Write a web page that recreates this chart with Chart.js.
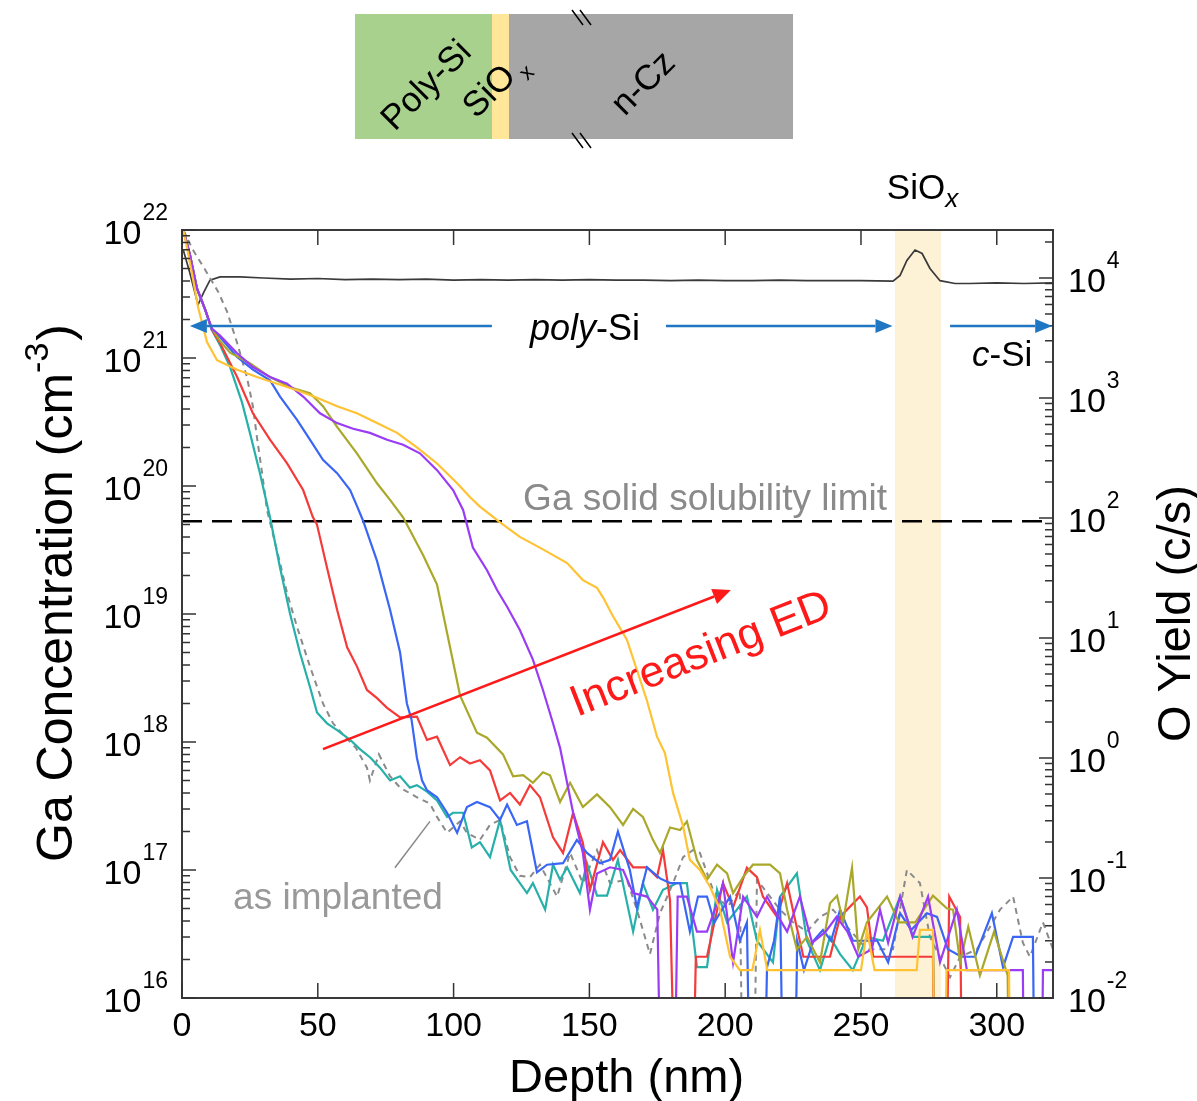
<!DOCTYPE html>
<html><head><meta charset="utf-8">
<script src="https://cdn.jsdelivr.net/npm/chart.js@4.4.1/dist/chart.umd.min.js"></script>
<style>html,body{margin:0;padding:0;background:#fff;}#wrap{width:1197px;height:1101px;position:relative;}</style>
</head><body><div id="wrap"><canvas id="c" width="1197" height="1101"></canvas></div>
<script>
const ND = 1e12; // below detection limit: plotted to the bottom of the log axis
const depthTicks = [0, 50, 100, 150, 200, 250, 300];
const gaExponents = [16, 17, 18, 19, 20, 21, 22];
const oExponents = [-2, -1, 0, 1, 2, 3, 4];
const solubilityLimit = 5.3e19;
const siOxBand = [262.5, 279.5];

// [depth (nm), Ga concentration (cm^-3)]
const asImplanted = [[0.5,1e22],[4.0,7.0e21],[8.5,4.9e21],[13.3,3.3e21],[16.6,2.3e21],[20.3,1.31e21],[23.9,7.1e20],[26.1,4.2e20],[27.6,2.4e20],[29.5,1.26e20],[31.3,6.5e19],[36.1,2.5e19],[38.7,1.45e19],[42.3,8.0e18],[47.1,3.9e18],[51.9,2.0e18],[55.6,1.4e18],[60.0,1.1e18],[64.0,9.0e17],[68.1,6.3e17],[69.2,5.0e17],[72.5,8.0e17],[76.6,5.4e17],[80.3,4.4e17],[86.5,3.7e17],[91.3,3.3e17],[93.9,2.6e17],[97.6,1.95e17],[102.4,2.4e17],[104.9,1.95e17],[109.7,1.72e17],[113.4,2.25e17],[117.1,2.46e17],[120.8,1.26e17],[124.4,9.0e16],[128.1,8.8e16],[131.8,1.1e17],[138.1,6.2e16],[142.9,1.36e17],[147.6,7.9e16],[152.8,1.43e17],[157.6,7.9e16],[163.8,8.4e16],[167.5,4.9e16],[172.3,2.2e16],[176.0,4.6e16],[180.8,7.9e16],[184.5,1.26e17],[188.1,1.43e17],[190.7,1.36e17],[195.5,7.0e16],[200.7,5.1e16],[205.4,7.0e16],[208.5,ND],[211.7,8.4e16],[220.2,4.9e16],[225.0,3.9e16],[230.1,3.3e16],[234.9,4.3e16],[239.7,4.9e16],[244.9,3.6e16],[252.2,2.4e16],[261.8,2.4e16],[266.9,1.0e17],[271.7,7.9e16],[275.4,3.0e16],[282.8,1.45e16],[286.5,2.1e16],[292.7,2.4e16],[301.2,4.9e16],[306.0,6.2e16],[309.6,2.7e16],[312.2,2.1e16],[317.0,3.9e16],[320.7,2.4e16]];

const teal = [[0.5,1e22],[2.9,6.4e21],[5.5,3.5e21],[8.5,2.4e21],[11.0,1.66e21],[14.0,1.26e21],[17.7,8.5e20],[22.1,4.5e20],[25.0,2.6e20],[28.7,1.26e20],[32.4,5.7e19],[36.1,2.3e19],[39.8,1.0e19],[43.4,5.0e18],[47.1,2.7e18],[49.7,1.7e18],[53.4,1.4e18],[57.1,1.24e18],[61.9,1.04e18],[65.5,8.8e17],[69.2,7.6e17],[72.9,6.3e17],[76.6,5.0e17],[80.3,5.4e17],[83.9,4.4e17],[86.5,4.6e17],[90.2,4.1e17],[93.9,3.5e17],[97.6,2.6e17],[99.8,2.8e17],[103.5,2.8e17],[106.7,1.5e17],[109.7,1.65e17],[113.4,1.26e17],[117.1,2.46e17],[121.0,1.0e17],[127.0,6.6e16],[129.2,7.9e16],[133.7,4.9e16],[136.6,1.1e17],[139.2,8.4e16],[141.8,1.05e17],[146.5,6.6e16],[149.1,1.13e17],[152.8,6.3e16],[156.5,6.3e16],[160.5,1.2e17],[166.1,3.3e16],[169.7,7.9e16],[173.4,4.9e16],[177.1,7.0e16],[182.3,7.9e16],[185.9,7.9e16],[189.6,1.74e16],[193.3,1.74e16],[197.0,7.0e16],[200.7,3.9e16],[208.0,6.2e16],[211.7,2.8e16],[217.6,1.9e16],[220.2,6.2e16],[226.4,9.4e16],[230.1,2.8e16],[234.9,1.65e16],[238.6,3.0e16],[242.3,2.2e16],[247.0,1.65e16],[252.2,3.0e16],[258.1,2.8e16],[264.4,6.2e16],[269.2,3.0e16],[276.5,3.0e16],[279.5,ND]];

const red = [[0.5,1e22],[2.9,6.4e21],[5.5,3.5e21],[8.5,2.4e21],[11.0,1.66e21],[14.0,1.31e21],[20.3,7.1e20],[26.1,3.7e20],[32.4,2.3e20],[38.7,1.5e20],[44.6,9.3e19],[48.2,5.7e19],[49.7,5.0e19],[53.4,2.3e19],[57.1,1.08e19],[60.8,5.5e18],[64.4,3.9e18],[68.1,2.55e18],[71.8,2.2e18],[75.5,1.85e18],[80.3,1.56e18],[86.5,1.58e18],[90.2,1.04e18],[93.9,1.1e18],[98.7,6.6e17],[102.4,7.6e17],[106.0,6.8e17],[109.7,7.2e17],[113.4,6.0e17],[117.1,3.5e17],[120.8,4.0e17],[124.4,3.25e17],[128.1,4.6e17],[131.8,3.7e17],[136.6,1.8e17],[140.3,1.36e17],[144.0,2.8e17],[147.6,1.63e17],[150.2,7.0e16],[155.0,1.65e17],[158.7,1.2e17],[161.3,1.43e17],[166.1,1.05e17],[171.2,1.05e17],[174.9,8.8e16],[177.1,1.43e17],[179.7,5.8e16],[185.0,ND],[189.2,2.1e16],[193.3,2.1e16],[199.2,7.9e16],[202.9,5.1e16],[208.0,1.04e17],[211.7,8.8e16],[213.9,6.2e16],[219.1,4.3e16],[222.8,7.9e16],[225.5,4.3e16],[228.8,2.1e16],[238.6,2.1e16],[242.3,4.3e16],[249.6,6.2e16],[252.2,5.1e16],[254.5,2.1e16],[276.5,2.1e16],[279.0,ND],[282.5,6.2e16],[286.5,4.3e16],[289.0,ND]];

const blue = [[0.5,1e22],[2.9,6.4e21],[5.5,3.5e21],[8.5,2.4e21],[11.0,1.66e21],[14.0,1.46e21],[20.3,1.02e21],[26.1,8.1e20],[32.4,6.7e20],[36.1,5.0e20],[42.3,3.3e20],[47.1,2.3e20],[51.9,1.6e20],[57.1,1.26e20],[61.9,9.3e19],[64.4,7.0e19],[66.6,5.4e19],[71.8,2.6e19],[76.6,1.08e19],[80.3,5.0e18],[82.8,2.0e18],[84.5,1.5e18],[86.5,7.5e17],[88.4,5.0e17],[90.2,4.2e17],[93.9,3.7e17],[97.6,2.8e17],[101.3,1.95e17],[104.9,3.1e17],[108.6,3.4e17],[113.4,3.1e17],[117.1,2.46e17],[119.7,3.25e17],[123.3,2.25e17],[127.0,2.4e17],[130.7,9.6e16],[134.4,1.1e17],[140.3,1.13e17],[145.4,1.72e17],[149.1,1.36e17],[153.9,1.13e17],[157.6,1.2e17],[160.5,2.0e17],[164.9,1.0e17],[167.5,5.1e16],[171.2,1.05e17],[176.0,8.6e16],[179.7,7.9e16],[183.4,7.9e16],[187.0,3.3e16],[190.0,6.2e16],[193.3,6.2e16],[196.0,3.9e16],[201.8,6.2e16],[205.4,2.8e16],[208.0,3.9e16],[211.5,ND],[215.4,1.74e16],[218.0,2.8e16],[220.2,6.2e16],[223.5,ND],[226.5,2.8e16],[229.0,1.65e16],[232.5,2.8e16],[236.0,3.4e16],[239.0,2.8e16],[242.3,4.9e16],[247.0,2.8e16],[252.0,2.8e16],[256.0,2.8e16],[260.0,1.9e16],[264.4,4.6e16],[268.5,3.4e16],[274.3,4.6e16],[278.0,4.3e16],[282.0,2.4e16],[287.0,2.1e16],[292.0,2.1e16],[298.2,4.6e16],[302.3,1.74e16],[306.0,3.0e16],[313.3,3.0e16],[315.5,ND]];

const olive = [[0.5,1e22],[2.9,6.4e21],[5.5,3.5e21],[8.5,2.4e21],[11.0,1.7e21],[14.0,1.36e21],[17.7,1.1e21],[25.0,9.1e20],[32.4,7.1e20],[39.8,5.9e20],[47.1,5.3e20],[51.9,4.2e20],[57.1,2.9e20],[64.4,1.8e20],[71.8,1.05e20],[76.6,7.8e19],[81.4,5.7e19],[88.7,2.9e19],[93.9,1.7e19],[98.7,5.5e18],[102.4,2.3e18],[108.6,1.18e18],[112.3,1.08e18],[118.2,8.0e17],[121.9,5.4e17],[125.6,5.5e17],[129.2,4.8e17],[132.9,5.8e17],[135.5,5.5e17],[139.2,3.4e17],[142.9,4.8e17],[147.6,3.1e17],[152.8,3.9e17],[157.6,3.1e17],[162.4,2.25e17],[166.1,3.0e17],[169.7,2.6e17],[173.4,1.72e17],[176.0,1.36e17],[179.7,2.15e17],[183.4,2.05e17],[185.9,2.4e17],[189.6,1.2e17],[193.3,8.4e16],[197.0,1.1e17],[200.7,9.4e16],[202.9,6.6e16],[206.6,8.8e16],[210.2,1.1e17],[216.5,1.1e17],[220.2,9.4e16],[222.8,4.9e16],[226.4,2.4e16],[230.1,3.0e16],[234.9,1.9e16],[238.6,5.5e16],[241.2,6.3e16],[243.4,3.9e16],[246.7,1.04e17],[249.0,2.4e16],[252.2,3.9e16],[259.6,6.2e16],[264.0,3.9e16],[270.0,3.9e16],[276.5,6.3e16],[281.7,5.0e16],[283.9,4.9e16],[286.5,1.9e16],[289.5,3.6e16],[293.8,1.5e16],[299.0,3.3e16],[304.0,1.5e16],[306.5,ND]];

const purple = [[0.5,1e22],[2.9,6.4e21],[5.5,3.5e21],[8.5,2.4e21],[11.0,1.7e21],[14.0,1.5e21],[20.3,1.09e21],[26.1,8.5e20],[32.4,7.1e20],[38.7,6.3e20],[44.6,5.0e20],[50.8,3.7e20],[57.1,3.1e20],[63.0,2.8e20],[69.2,2.6e20],[75.5,2.3e20],[81.4,2.1e20],[87.6,1.8e20],[93.9,1.33e20],[99.8,9.3e19],[103.5,6.5e19],[107.1,3.3e19],[112.3,2.2e19],[116.0,1.54e19],[119.7,1.14e19],[124.4,7.5e18],[129.2,4.4e18],[132.9,2.55e18],[136.6,1.4e18],[139.2,9.0e17],[141.8,4.8e17],[144.0,2.8e17],[147.6,1.36e17],[150.2,4.9e16],[152.8,9.4e16],[157.6,1.05e17],[162.4,1.0e17],[166.1,6.6e16],[171.2,6.2e16],[175.0,4.9e16],[179.0,ND],[182.5,6.2e16],[185.9,6.2e16],[189.6,3.3e16],[193.3,3.3e16],[197.4,5.8e16],[199.2,7.9e16],[202.9,1.9e16],[206.6,6.2e16],[211.7,4.3e16],[215.4,6.2e16],[218.0,4.9e16],[222.8,3.3e16],[227.5,6.2e16],[232.0,2.7e16],[237.0,3.3e16],[241.0,4.3e16],[245.0,3.3e16],[249.0,2.1e16],[254.0,2.4e16],[257.0,4.9e16],[260.0,2.7e16],[264.4,6.2e16],[269.0,3.0e16],[274.7,6.2e16],[279.1,1.9e16],[285.3,4.9e16],[289.0,1.65e16],[309.6,1.65e16],[311.5,ND],[315.0,ND],[317.0,1.65e16],[320.7,1.65e16]];

const orange = [[0.5,1e22],[2.0,7.0e21],[4.0,4.2e21],[5.9,2.5e21],[9.2,1.33e21],[12.9,9.6e20],[20.3,8.1e20],[27.6,7.1e20],[35.0,6.3e20],[42.3,5.6e20],[49.7,4.9e20],[57.1,4.2e20],[64.4,3.7e20],[71.8,3.1e20],[79.2,2.6e20],[86.5,2.0e20],[93.9,1.5e20],[101.3,1.05e20],[106.0,8.2e19],[109.7,6.9e19],[117.1,5.2e19],[124.4,4.0e19],[132.9,3.2e19],[141.8,2.5e19],[147.6,1.84e19],[152.8,1.6e19],[155.0,1.35e19],[158.7,9.6e18],[163.8,6.3e18],[167.5,3.65e18],[171.2,2.1e18],[174.9,1.1e18],[177.8,8.2e17],[180.8,4.0e17],[184.5,2.2e17],[187.0,1.2e17],[190.7,1.0e17],[194.4,7.4e16],[198.1,4.9e16],[201.8,2.1e16],[205.4,1.65e16],[210.0,1.65e16],[212.8,3.4e16],[215.5,1.65e16],[250.0,1.65e16],[252.2,3.4e16],[255.0,1.65e16],[270.5,1.65e16],[271.7,3.4e16],[276.5,3.4e16],[278.5,ND],[281.5,1.65e16],[304.5,1.65e16],[306.5,ND]];

// [depth (nm), O yield (c/s)]
const oYield = [[0.5,1.7e4],[2.9,1.1e4],[5.9,6.0e3],[8.0,7.6e3],[10.3,9.6e3],[14.0,1.02e4],[21.4,1.02e4],[30,1.0e4],[40,9.8e3],[50,9.9e3],[60,9.7e3],[70,9.8e3],[80,9.7e3],[90,9.8e3],[100,9.6e3],[110,9.7e3],[120,9.6e3],[130,9.7e3],[140,9.6e3],[150,9.7e3],[160,9.6e3],[170,9.6e3],[180,9.5e3],[190,9.6e3],[200,9.5e3],[210,9.5e3],[220,9.6e3],[230,9.5e3],[240,9.5e3],[250,9.5e3],[261.8,9.4e3],[264.4,1.05e4],[266.9,1.4e4],[269.9,1.71e4],[272.5,1.6e4],[275.4,1.2e4],[279.1,9.5e3],[284.6,9.0e3],[290,9.0e3],[300,9.1e3],[310,9.0e3],[320.7,9.1e3]];

const FF = '"Liberation Sans", Arial, Helvetica, sans-serif';
const pts = a => a.map(([x, y]) => ({x, y}));
function ds(data, color, extra) {
  return Object.assign({data: pts(data), borderColor: color, borderWidth: 2.2, pointRadius: 0, fill: false, tension: 0, yAxisID: 'y'}, extra || {});
}

function arrow(ctx, x1, y1, x2, y2, color, lw, hl, hw) {
  const a = Math.atan2(y2 - y1, x2 - x1);
  const bx = x2 - hl * Math.cos(a), by = y2 - hl * Math.sin(a);
  ctx.save(); ctx.strokeStyle = color; ctx.fillStyle = color; ctx.lineWidth = lw;
  ctx.beginPath(); ctx.moveTo(x1, y1); ctx.lineTo(bx, by); ctx.stroke();
  ctx.beginPath(); ctx.moveTo(x2, y2);
  ctx.lineTo(bx + hw * Math.sin(a), by - hw * Math.cos(a));
  ctx.lineTo(bx - hw * Math.sin(a), by + hw * Math.cos(a));
  ctx.closePath(); ctx.fill(); ctx.restore();
}
function runs(ctx, parts, x, y) {
  let cx = x;
  for (const p of parts) {
    ctx.font = p.f; ctx.fillText(p.t, cx, y + (p.dy || 0));
    cx += ctx.measureText(p.t).width + (p.gap || 0);
  }
  return cx - x;
}
function powLabel(ctx, exp, x, y, align) {
  ctx.font = '34px ' + FF; const wb = ctx.measureText('10').width;
  ctx.font = '23px ' + FF; const ws = ctx.measureText(String(exp)).width;
  const x0 = align === 'right' ? x - wb - ws - 1 : x;
  ctx.textAlign = 'left'; ctx.textBaseline = 'alphabetic';
  ctx.font = '34px ' + FF; ctx.fillText('10', x0, y);
  ctx.font = '23px ' + FF; ctx.fillText(String(exp), x0 + wb + 1, y - 24);
}

const decor = {
  id: 'decor',
  beforeDatasetsDraw(chart) {
    const {ctx, chartArea: ca, scales: {x}} = chart;
    const x1 = x.getPixelForValue(siOxBand[0]), x2 = x.getPixelForValue(siOxBand[1]);
    ctx.save(); ctx.fillStyle = '#fdf1d6'; ctx.fillRect(x1, ca.top, x2 - x1, ca.bottom - ca.top); ctx.restore();
  },
  afterDatasetsDraw(chart) {
    const {ctx, chartArea: ca, scales: {x, y, y2}} = chart;
    const X = v => x.getPixelForValue(v), Y = v => y.getPixelForValue(v);
    ctx.save();
    ctx.strokeStyle = '#3a3a3a'; ctx.lineWidth = 2;
    ctx.strokeRect(ca.left, ca.top, ca.right - ca.left, ca.bottom - ca.top);
    ctx.lineWidth = 1.5; ctx.strokeStyle = '#333';
    ctx.beginPath();
    for (const e of gaExponents) {
      const py = Y(Math.pow(10, e)); ctx.moveTo(ca.left, py); ctx.lineTo(ca.left + 14, py);
      if (e < 22) for (let m = 2; m <= 9; m++) { const q = Y(m * Math.pow(10, e)); ctx.moveTo(ca.left, q); ctx.lineTo(ca.left + 8, q); }
    }
    for (const e of oExponents) {
      const py = y2.getPixelForValue(Math.pow(10, e)); ctx.moveTo(ca.right, py); ctx.lineTo(ca.right - 14, py);
      for (let m = 2; m <= 9; m++) { const v = m * Math.pow(10, e); if (v > y2.max) break; const q = y2.getPixelForValue(v); ctx.moveTo(ca.right, q); ctx.lineTo(ca.right - 8, q); }
    }
    for (const d of depthTicks) {
      const px = X(d); ctx.moveTo(px, ca.bottom); ctx.lineTo(px, ca.bottom - 15); ctx.moveTo(px, ca.top); ctx.lineTo(px, ca.top + 15);
    }
    ctx.stroke();
    ctx.fillStyle = '#000';
    for (const e of gaExponents) powLabel(ctx, e, 168, Y(Math.pow(10, e)) + 14, 'right');
    for (const e of oExponents) powLabel(ctx, e, 1068, y2.getPixelForValue(Math.pow(10, e)) + 14, 'left');
    ctx.font = '34px ' + FF; ctx.textAlign = 'center';
    for (const d of depthTicks) ctx.fillText(String(d), X(d), ca.bottom + 38);
    ctx.textAlign = 'left';
    ctx.font = '47px ' + FF; ctx.fillText('Depth (nm)', 509, 1092);
    ctx.save(); ctx.translate(72, 862); ctx.rotate(-Math.PI / 2);
    runs(ctx, [{t: 'Ga Concentration (cm', f: '50px ' + FF}, {t: '-3', f: '34px ' + FF, dy: -24, gap: 2}, {t: ')', f: '50px ' + FF}], 0, 0);
    ctx.restore();
    ctx.save(); ctx.translate(1190, 742); ctx.rotate(-Math.PI / 2);
    ctx.font = '47px ' + FF; ctx.fillText('O Yield (c/s)', 0, 0);
    ctx.restore();
    const ya = Y(1.78e21);
    arrow(ctx, X(114.1), ya, X(2.9), ya, '#1f77c4', 2.5, 17, 7);
    arrow(ctx, X(178.2), ya, X(261.6), ya, '#1f77c4', 2.5, 17, 7);
    arrow(ctx, X(282.8), ya, X(320.4), ya, '#1f77c4', 2.5, 17, 7);
    ctx.fillStyle = '#000';
    runs(ctx, [{t: 'poly', f: 'italic 36px ' + FF}, {t: '-Si', f: '36px ' + FF}], X(128.1), Y(1.38e21));
    runs(ctx, [{t: 'c', f: 'italic 35px ' + FF}, {t: '-Si', f: '35px ' + FF}], X(290.9), Y(8.66e20));
    runs(ctx, [{t: 'SiO', f: '35px ' + FF}, {t: 'x', f: 'italic 26px ' + FF, dy: 8}], X(259.5), ca.top - 31);
    ctx.fillStyle = '#8a8a8a'; ctx.font = '37px ' + FF; ctx.fillText('Ga solid solubility limit', X(125.6), Y(6.5e19));
    ctx.fillStyle = '#999'; ctx.fillText('as implanted', X(18.8), Y(5.0e16));
    ctx.strokeStyle = '#888'; ctx.lineWidth = 1.5; ctx.beginPath(); ctx.moveTo(X(78.4), Y(1.04e17)); ctx.lineTo(X(91.3), Y(2.4e17)); ctx.stroke();
    arrow(ctx, X(51.9), Y(8.8e17), X(202.1), Y(1.54e19), '#ff1a1a', 2.5, 18, 8);
    ctx.save(); ctx.translate(X(145.4), Y(1.57e18)); ctx.rotate(-21.5 * Math.PI / 180);
    ctx.fillStyle = '#ff1a1a'; ctx.font = '44px ' + FF; ctx.fillText('Increasing ED', 0, 0); ctx.restore();
    ctx.restore();
  },
  afterDraw(chart) {
    const ctx = chart.ctx;
    ctx.save();
    ctx.fillStyle = '#a9d18e'; ctx.fillRect(355, 14, 137, 125);
    ctx.fillStyle = '#ffe699'; ctx.fillRect(492, 14, 17, 125);
    ctx.fillStyle = '#a6a6a6'; ctx.fillRect(509, 14, 284, 125);
    ctx.fillStyle = '#000'; ctx.textAlign = 'center'; ctx.textBaseline = 'middle';
    const rot = (t, cx, cy, f) => { ctx.save(); ctx.translate(cx, cy); ctx.rotate(-Math.PI / 4); ctx.font = f; ctx.fillText(t, 0, 0); ctx.restore(); };
    rot('Poly-Si', 427, 86, '35px ' + FF);
    rot('SiO', 490, 92, '35px ' + FF);
    rot('x', 527, 73, '22px ' + FF);
    rot('n-Cz', 644, 84, '35px ' + FF);
    ctx.strokeStyle = '#000'; ctx.lineWidth = 1.5; ctx.beginPath();
    ctx.moveTo(572, 10); ctx.lineTo(583, 25); ctx.moveTo(580, 10); ctx.lineTo(591, 25);
    ctx.moveTo(572, 133); ctx.lineTo(583, 148); ctx.moveTo(580, 133); ctx.lineTo(591, 148);
    ctx.stroke();
    ctx.restore();
  }
};

new Chart(document.getElementById('c'), {
  type: 'line',
  data: {datasets: [
    ds(orange, '#ffc233'),
    ds(purple, '#9a3cf5'),
    ds(olive, '#a9a82a'),
    ds(blue, '#3a66f5'),
    ds(red, '#f53a3a'),
    ds(teal, '#27b0a9'),
    ds(asImplanted, '#8a8a8a', {borderDash: [6, 5], borderWidth: 2}),
    ds([[0, solubilityLimit], [320.7, solubilityLimit]], '#000', {borderDash: [20, 10], borderWidth: 2.5}),
    ds(oYield, '#3a3a3a', {yAxisID: 'y2', borderWidth: 1.7})
  ]},
  options: {
    responsive: false, animation: false, devicePixelRatio: 1,
    layout: {padding: {left: 182, right: 144, top: 230, bottom: 103}},
    plugins: {legend: {display: false}, tooltip: {enabled: false}},
    scales: {
      x: {type: 'linear', min: 0, max: 320.7, display: false},
      y: {type: 'logarithmic', min: 1e16, max: 1e22, display: false},
      y2: {type: 'logarithmic', min: 1e-2, max: Math.pow(10, 4.4), display: false, position: 'right'}
    }
  },
  plugins: [decor]
});
</script></body></html>
